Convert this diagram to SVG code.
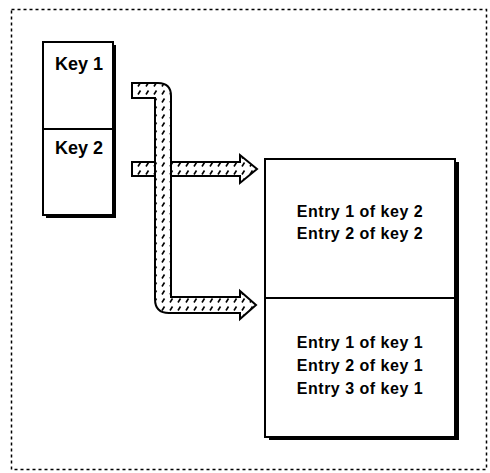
<svg xmlns="http://www.w3.org/2000/svg" width="490" height="473" viewBox="0 0 490 473">
<style>
.frame{fill:none;stroke:#000;stroke-width:1.5;stroke-dasharray:3 3}
.box{fill:#fff;stroke:#000;stroke-width:2}
.shadow{fill:#000}
.div{stroke:#000;stroke-width:2}
.key{font-family:"Liberation Sans",Arial,sans-serif;font-weight:bold;font-size:18px;text-anchor:middle;fill:#000}
.entry{font-family:"Liberation Sans",Arial,sans-serif;font-weight:bold;font-size:16px;letter-spacing:0.5px;text-anchor:middle;fill:#000}
.arrow{fill:url(#hatch);stroke:#000;stroke-width:2;stroke-linejoin:miter}
</style>
<defs>
<pattern id="hatch" patternUnits="userSpaceOnUse" width="8" height="8">
<rect width="8" height="8" fill="#fff"/>
<line x1="2" y1="6.5" x2="4.5" y2="2.5" stroke="#000" stroke-width="1.6"/>
</pattern>
</defs>
<rect class="frame" x="11.5" y="9.5" width="475" height="460"/>
<g id="keys">
<rect class="shadow" x="46" y="45" width="70" height="173"/>
<rect class="box" x="43" y="42" width="70" height="173"/>
<line class="div" x1="43" y1="129" x2="113" y2="129"/>
<text class="key" x="79" y="70">Key 1</text>
<text class="key" x="79" y="154">Key 2</text>
</g>
<g id="entries">
<rect class="shadow" x="269" y="162" width="190" height="278"/>
<rect class="box" x="265" y="159" width="190" height="278"/>
<line class="div" x1="265" y1="298" x2="455" y2="298"/>
<text class="entry" x="360" y="217">Entry 1 of key 2</text>
<text class="entry" x="360" y="239">Entry 2 of key 2</text>
<text class="entry" x="360" y="348">Entry 1 of key 1</text>
<text class="entry" x="360" y="371">Entry 2 of key 1</text>
<text class="entry" x="360" y="394">Entry 3 of key 1</text>
</g>
<g id="connectors">
<polygon class="arrow" points="132,162 240,162 240,155 257,169 240,183 240,176 132,176"/>
<path class="arrow" d="M132,83 H158 Q171,83 171,96 V297 H240 V291 L256,305 L240,319 V313 H169 Q155,313 155,299 V98 H132 Z"/>
</g>
</svg>
